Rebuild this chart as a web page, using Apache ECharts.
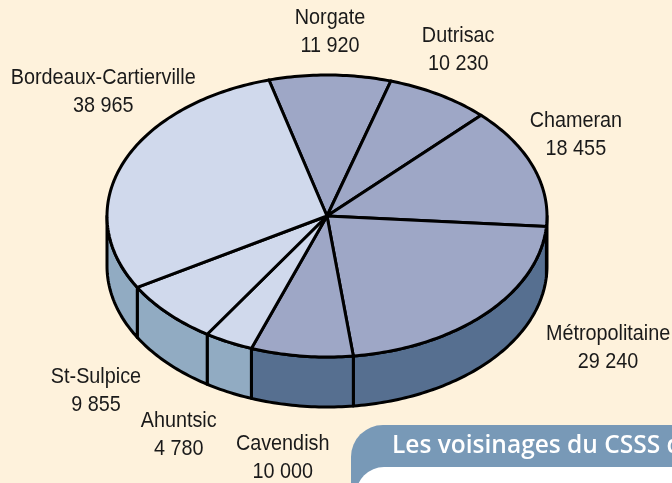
<!DOCTYPE html>
<html><head><meta charset="utf-8">
<style>html,body{margin:0;padding:0;background:#FEF2DC}#c{width:672px;height:483px}</style>
<script src="https://cdn.jsdelivr.net/npm/echarts@6/dist/echarts.min.js"></script>
</head><body><div id="c"></div>
<script>
const names = ['Norgate','Dutrisac','Chameran','Métropolitaine','Cavendish','Ahuntsic','St-Sulpice','Bordeaux-Cartierville'];
const values = [11920,10230,18455,29240,10000,4780,9855,38965];
const valueLabels = ['11 920','10 230','18 455','29 240','10 000','4 780','9 855','38 965'];
const groupDark = [1,1,1,1,1,0,0,0];

const labelShift = [[0,-43],[19,-45],[43,-31],[122,35],[-19,102],[-50,93],[-72,78],[-20,-71]];
const topColors = ['#D0D9EC','#9EA7C6'];
const sideColors = ['#91ABC2','#566F90'];
const cx=327, cy=216, rx=220, ry=141, depth=50, startDeg=-15.3, lw=3;
const total = values.reduce((a,b)=>a+b,0);
const starts=[]; values.reduce((acc,v,i)=>{starts[i]=acc;return acc+v/total*360;},startDeg);
const rim=(deg,dy)=>{const t=deg*Math.PI/180;return [cx+rx*Math.sin(t),cy-ry*Math.cos(t)+(dy||0)];};
const arc=(a,b,dy)=>{const p=[];const n=Math.max(2,Math.ceil(Math.abs(b-a)));for(let i=0;i<=n;i++)p.push(rim(a+(b-a)*i/n,dy));return p;};

const data = values.map((v,i)=>({value:[v,i],name:names[i]}));
const line={stroke:'#000',lineWidth:lw,lineJoin:'round'};

function renderSide(params,api){
  const i=api.value(1), a=starts[i], b=a+api.value(0)/total*360;
  const s=Math.max(a,90), e=Math.min(b,270);
  if(e<=s) return {type:'group',children:[]};
  const pts=arc(s,e,0).concat(arc(e,s,depth));
  return {type:'polygon',shape:{points:pts},style:Object.assign({fill:sideColors[groupDark[i]]},line)};
}
function renderTop(params,api){
  const i=api.value(1), a=starts[i], b=a+api.value(0)/total*360;
  return {type:'polygon',shape:{points:[[cx,cy]].concat(arc(a,b,0))},style:Object.assign({fill:topColors[groupDark[i]]},line)};
}
function renderLabel(params,api){
  const i=api.value(1), a=starts[i], b=a+api.value(0)/total*360;
  const p=rim((a+b)/2,0);
  return {type:'text',x:p[0]+labelShift[i][0],y:p[1]+labelShift[i][1],scaleX:0.9,style:{
    text:names[i]+'\n'+valueLabels[i],fill:'#1a1a1a',align:'center',verticalAlign:'middle',
    font:'22px "Liberation Sans"',lineHeight:28}};
}
const chart=echarts.init(document.getElementById('c'),null,{renderer:'canvas'});
chart.setOption({
  backgroundColor:'#FEF2DC',animation:false,
  series:[
    {type:'custom',coordinateSystem:'none',renderItem:renderSide,data,silent:true,z:2},
    {type:'custom',coordinateSystem:'none',renderItem:renderTop,data,silent:true,z:3},
    {type:'custom',coordinateSystem:'none',renderItem:renderLabel,data,silent:true,z:4}
  ],
  graphic:[
    {type:'rect',z:5,shape:{x:351,y:425,width:360,height:100,r:[32,0,0,0]},style:{fill:'#7899B7'}},
    {type:'rect',z:6,shape:{x:356,y:467,width:340,height:60,r:[28,0,0,0]},style:{fill:'#FFFFFF'}},
    {type:'text',z:7,x:392,y:446,style:{text:'Les voisinages du CSSS de',fill:'#fff',font:'600 24.5px "Open Sans"',verticalAlign:'middle'}}
  ]
});
</script></body></html>
